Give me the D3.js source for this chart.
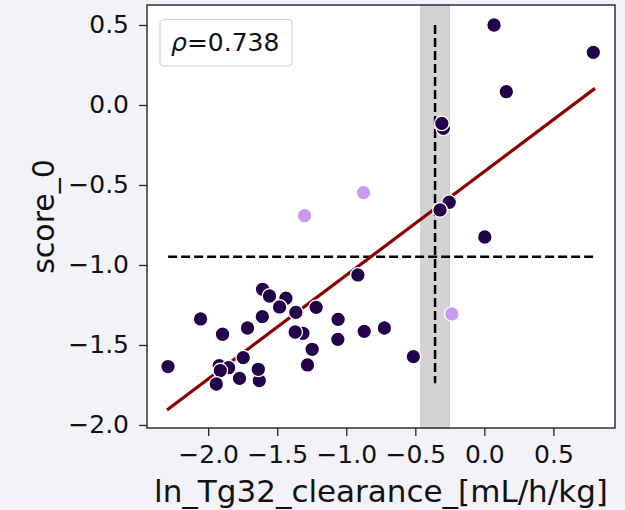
<!DOCTYPE html>
<html>
<head>
<meta charset="utf-8">
<script src="https://cdn.jsdelivr.net/npm/d3@7"></script>
<style>
  body { margin: 0; background: #f3f2f8; }
  text { font-family: "DejaVu Sans", sans-serif; fill: #111; }
</style>
</head>
<body>
<div id="chart"></div>
<script>
// Input data
const darkX = [-1.92, -1.63, -1.314, -0.297, 0.070, 0.789, 0.159, -0.308, -0.255, -0.321, 0.003,
  -0.916, -1.606, -1.556, -1.437, -1.483, -1.365, -1.218, -2.055, -1.608, -1.059, -1.896,
  -1.715, -1.370, -0.870, -0.724, -1.061, -1.247, -1.281, -0.514, -2.291, -1.746, -1.852,
  -1.912, -1.941, -1.773, -1.637];
const darkY = [-1.629, -1.723, -1.427, -0.146, 0.50, 0.329, 0.083, -0.115, -0.608, -0.656, -0.825,
  -1.0625, -1.152, -1.194, -1.208, -1.2625, -1.296, -1.265, -1.3375, -1.323, -1.34, -1.433,
  -1.394, -1.419, -1.415, -1.394, -1.465, -1.527, -1.625, -1.573, -1.635, -1.579, -1.642,
  -1.66, -1.744, -1.709, -1.652];
const lightX = [-0.875, -1.302, -0.236];
const lightY = [-0.548, -0.692, -1.306];

const fitLine = [[-2.298, -1.906], [0.801, 0.104]];
const hLine = { y: -0.948, x0: -2.29, x1: 0.794 };
const vLine = { x: -0.357, y0: 0.5, y1: -1.74 };
const band = [-0.46, -0.253];
const rhoText = "=0.738";

const xTicks = [-2.0, -1.5, -1.0, -0.5, 0.0, 0.5];
const yTicks = [0.5, 0.0, -0.5, -1.0, -1.5, -2.0];
const xLabel = "ln_Tg32_clearance_[mL/h/kg]";
const yLabel = "score_0";

const width = 625, height = 510;
const margin = { top: 5, right: 10, bottom: 82, left: 147 };

const svg = d3.select("#chart").append("svg")
  .attr("width", width).attr("height", height);

const x = d3.scaleLinear().domain([-2.443, 0.946]).range([margin.left, width - margin.right]);
const y = d3.scaleLinear().domain([-2.019, 0.625]).range([height - margin.bottom, margin.top]);

// plot background
svg.append("rect")
  .attr("x", margin.left).attr("y", margin.top)
  .attr("width", x.range()[1] - x.range()[0])
  .attr("height", y.range()[0] - y.range()[1])
  .attr("fill", "white");

// shaded band
svg.append("rect")
  .attr("x", x(band[0])).attr("y", margin.top)
  .attr("width", x(band[1]) - x(band[0]))
  .attr("height", y.range()[0] - y.range()[1])
  .attr("fill", "#d3d3d3").attr("stroke", "#c4c4c4").attr("stroke-width", 1);

// dashed lines
svg.append("line")
  .attr("x1", x(hLine.x0)).attr("x2", x(hLine.x1))
  .attr("y1", y(hLine.y)).attr("y2", y(hLine.y))
  .attr("stroke", "black").attr("stroke-width", 2.5).attr("stroke-dasharray", "9,4");
svg.append("line")
  .attr("x1", x(vLine.x)).attr("x2", x(vLine.x))
  .attr("y1", y(vLine.y0)).attr("y2", y(vLine.y1))
  .attr("stroke", "black").attr("stroke-width", 2.5).attr("stroke-dasharray", "9,4");

// regression line
svg.append("line")
  .attr("x1", x(fitLine[0][0])).attr("y1", y(fitLine[0][1]))
  .attr("x2", x(fitLine[1][0])).attr("y2", y(fitLine[1][1]))
  .attr("stroke", "#8b0000").attr("stroke-width", 3.2);

// points
const pts = darkX.map((d, i) => ({ x: d, y: darkY[i], c: "#22004a" }))
  .concat(lightX.map((d, i) => ({ x: d, y: lightY[i], c: "#c99bf0" })));
svg.append("g").selectAll("circle").data(pts).enter().append("circle")
  .attr("cx", d => x(d.x)).attr("cy", d => y(d.y)).attr("r", 7.3)
  .attr("fill", d => d.c).attr("stroke", "white").attr("stroke-width", 1.3);

// frame
svg.append("rect")
  .attr("x", margin.left).attr("y", margin.top)
  .attr("width", x.range()[1] - x.range()[0])
  .attr("height", y.range()[0] - y.range()[1])
  .attr("fill", "none").attr("stroke", "#222").attr("stroke-width", 1.4);

// axes
const fmt = d => d3.format(".1f")(d).replace("-", "\u2212");
const xAxis = svg.append("g")
  .attr("transform", `translate(0,${height - margin.bottom})`)
  .call(d3.axisBottom(x).tickValues(xTicks).tickSize(8).tickPadding(9).tickFormat(fmt));
const yAxis = svg.append("g")
  .attr("transform", `translate(${margin.left},0)`)
  .call(d3.axisLeft(y).tickValues(yTicks).tickSize(8).tickPadding(10).tickFormat(fmt));
[xAxis, yAxis].forEach(a => {
  a.select(".domain").remove();
  a.selectAll(".tick line").attr("stroke", "#222").attr("stroke-width", 1.3);
  a.selectAll(".tick text").attr("font-size", 25).attr("fill", "#111")
    .attr("font-family", "DejaVu Sans");
});

// axis labels
svg.append("text")
  .attr("x", (x.range()[0] + x.range()[1]) / 2).attr("y", 502)
  .attr("text-anchor", "middle").attr("font-size", 31).text(xLabel);
svg.append("text")
  .attr("transform", `translate(54,${(y.range()[0] + y.range()[1]) / 2}) rotate(-90)`)
  .attr("text-anchor", "middle").attr("font-size", 30).text(yLabel);

// rho box
svg.append("rect")
  .attr("x", 160).attr("y", 19.5).attr("width", 132).attr("height", 46.5)
  .attr("rx", 4).attr("fill", "white").attr("fill-opacity", 0.8)
  .attr("stroke", "#d0d0d0").attr("stroke-width", 1.2);
const rt = svg.append("text").attr("x", 171).attr("y", 51).attr("font-size", 25);
rt.append("tspan").attr("font-style", "italic").text("\u03c1");
rt.append("tspan").text(rhoText);
</script>
</body>
</html>
